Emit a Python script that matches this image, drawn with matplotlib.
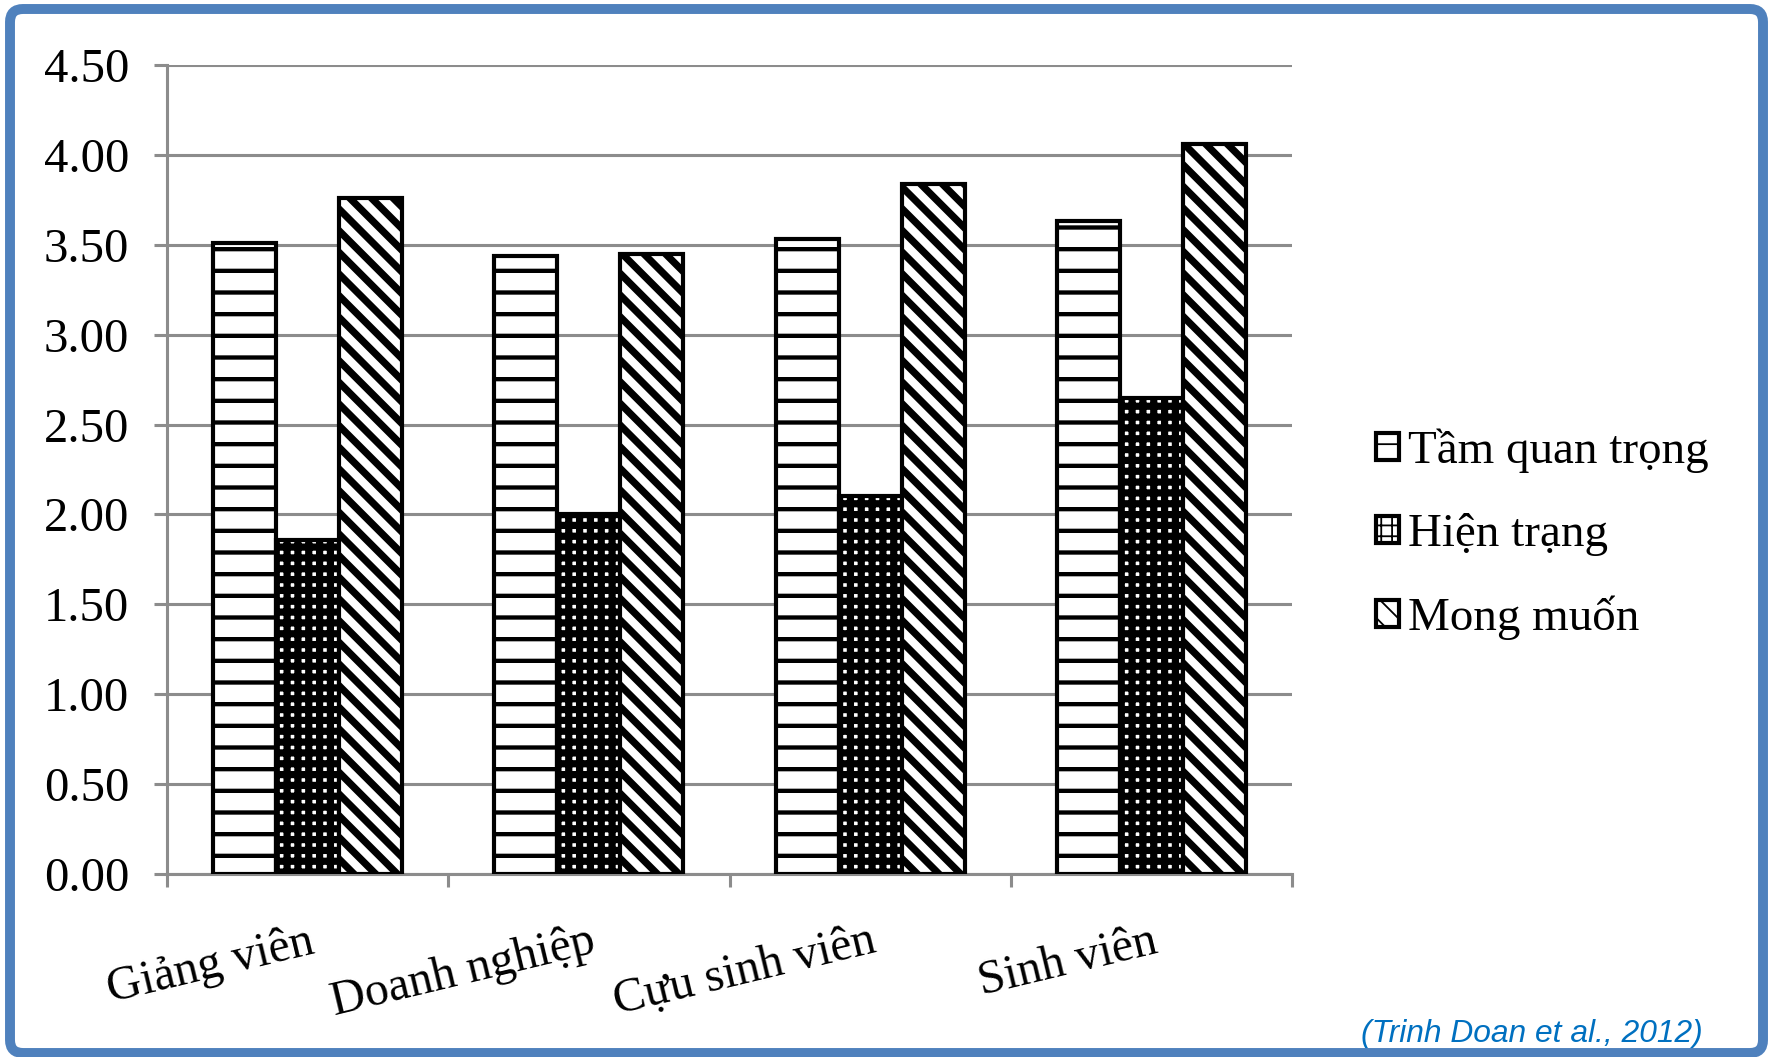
import matplotlib
matplotlib.use("Agg")
import numpy as np
import matplotlib as mpl
from matplotlib import pyplot as plt
from matplotlib import transforms
from matplotlib.patches import FancyBboxPatch

# data
categories = ["Giảng viên", "Doanh nghiệp", "Cựu sinh viên", "Sinh viên"]
series_names = ["Tầm quan trọng", "Hiện trạng", "Mong muốn"]
tam_quan_trong = [3.51, 3.44, 3.53, 3.63]
hien_trang = [1.86, 2.00, 2.10, 2.65]
mong_muon = [3.76, 3.45, 3.84, 4.06]
y_ticks = [0.0, 0.5, 1.0, 1.5, 2.0, 2.5, 3.0, 3.5, 4.0, 4.5]
source = "(Trinh Doan et al., 2012)"

DPI = 130
plt.rcParams["font.family"] = ["Liberation Serif", "DejaVu Serif"]

fig = plt.figure(figsize=(1769 / DPI, 1057 / DPI), dpi=DPI)
ax = fig.add_axes([0.0944, 0.1731, 0.636, 0.7654])

x = np.arange(len(categories))
w = 0.224
grid_col = "#8c8c8c"

styles = [("-", 2.4), ("++", 4.0), ("\\\\", 4.0)]
for i, (vals, (hatch, hlw)) in enumerate(zip([tam_quan_trong, hien_trang, mong_muon], styles)):
    with mpl.rc_context({"hatch.linewidth": hlw, "hatch.color": "black"}):
        bars = ax.bar(x + (i - 1) * w, vals, w, facecolor="white", edgecolor="black",
                      linewidth=2.3, hatch=hatch, label=series_names[i], zorder=3)
    for b in bars:
        try:
            b.set_hatch_linewidth(hlw)
        except AttributeError:
            pass

ax.set_xlim(-0.5, 3.5)
ax.set_ylim(0, 4.5)
ax.set_yticks(y_ticks)
ax.set_yticklabels(["%.2f" % v for v in y_ticks])
ax.yaxis.grid(True, color=grid_col, linewidth=1.7, zorder=0)
ax.set_axisbelow(True)

# tick marks between the categories
ax.set_xticks(np.arange(-0.5, 3.6, 1.0))
ax.set_xticklabels([])
ax.tick_params(axis="both", which="major", length=7, width=1.7, color=grid_col)
ax.tick_params(axis="y", labelsize=27, pad=14)

# slanted category names, right end just under the group centre
lab_tr = transforms.offset_copy(ax.get_xaxis_transform(), fig=fig, x=0, y=-45, units="dots")
for xi, name in zip(x, categories):
    ax.text(xi, 0, name, transform=lab_tr, rotation=13.5, ha="right", va="top",
            rotation_mode="anchor", fontsize=26.5)

for s in ["top", "right"]:
    ax.spines[s].set_visible(False)
for s in ["left", "bottom"]:
    ax.spines[s].set_color(grid_col)
    ax.spines[s].set_linewidth(1.7)

leg = ax.legend(loc="center left", bbox_to_anchor=(0.767, 0.4944),
                bbox_transform=fig.transFigure, frameon=False, fontsize=26,
                handlelength=0.5, handleheight=0.5, handletextpad=0.2,
                labelspacing=0.84, borderaxespad=0)
for p in leg.get_patches():
    p.set_linewidth(2.3)

fig.text(1703 / 1769, 1 - 1034 / 1057, source, ha="right", va="center",
         fontsize=17.6, style="italic", color="#0070c0", family="Liberation Sans")

# rounded blue frame round the whole picture
frame = FancyBboxPatch((10 / DPI, 4 / DPI), 1753 / DPI, 1044 / DPI,
                       boxstyle="round,pad=0,rounding_size=0.1",
                       transform=fig.dpi_scale_trans, facecolor="none",
                       edgecolor="#4f81bd", linewidth=5.5, zorder=10)
fig.patches.append(frame)

fig.savefig("out.png", dpi=DPI)
